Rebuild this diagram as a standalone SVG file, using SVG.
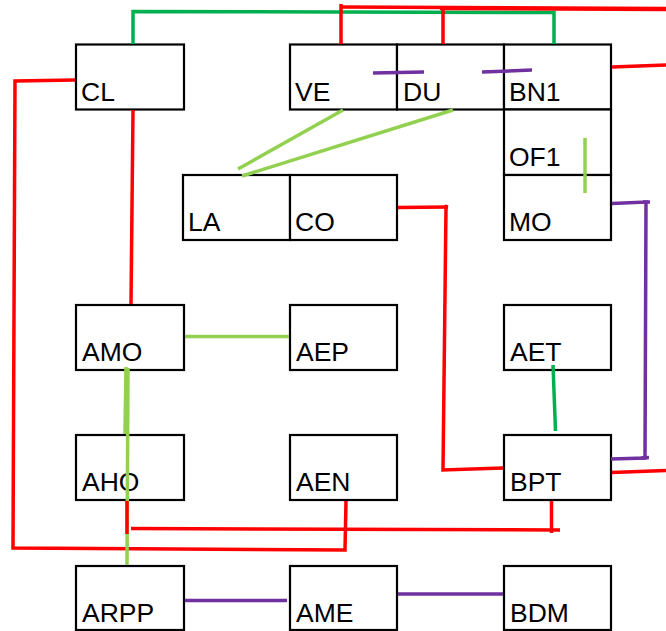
<svg xmlns="http://www.w3.org/2000/svg" width="666" height="631" viewBox="0 0 666 631">
<style>
.box rect{fill:#fff;stroke:#000;stroke-width:2.2}
.box text{font-family:"Liberation Sans",Arial,sans-serif;font-size:26.5px;fill:#000}
.c{fill:none;stroke-width:3.5;stroke-linecap:butt;stroke-linejoin:miter}
.r{stroke:#FF0000}.g{stroke:#00B050}.lg{stroke:#92D050}.p{stroke:#7030A0}
</style>
<rect width="666" height="631" fill="#fff"/>
<g id="CL" class="box"><rect x="76" y="44.5" width="108" height="65"/><text x="81" y="100.5">CL</text></g>
<g id="VE" class="box"><rect x="290" y="44.5" width="107" height="65"/><text x="295" y="100.5">VE</text></g>
<g id="DU" class="box"><rect x="397" y="44.5" width="107" height="65"/><text x="403" y="100.5">DU</text></g>
<g id="BN1" class="box"><rect x="504" y="44.5" width="107" height="65"/><text x="509" y="100.5">BN1</text></g>
<g id="OF1" class="box"><rect x="504" y="109.5" width="107" height="65.5"/><text x="509" y="165.5">OF1</text></g>
<g id="MO" class="box"><rect x="504" y="175" width="107" height="65"/><text x="509" y="231">MO</text></g>
<g id="LA" class="box"><rect x="183" y="175" width="107" height="65"/><text x="188" y="231">LA</text></g>
<g id="CO" class="box"><rect x="290" y="175" width="107" height="65"/><text x="295" y="231">CO</text></g>
<g id="AMO" class="box"><rect x="76" y="305" width="108" height="65"/><text x="82" y="361">AMO</text></g>
<g id="AEP" class="box"><rect x="290" y="305" width="107" height="65"/><text x="296" y="361">AEP</text></g>
<g id="AET" class="box"><rect x="504" y="305" width="107" height="65"/><text x="510" y="361">AET</text></g>
<g id="AHO" class="box"><rect x="76" y="435" width="108" height="65"/><text x="82" y="491">AHO</text></g>
<g id="AEN" class="box"><rect x="290" y="435" width="107" height="65"/><text x="296" y="491">AEN</text></g>
<g id="BPT" class="box"><rect x="504" y="435" width="107" height="65"/><text x="510" y="491">BPT</text></g>
<g id="ARPP" class="box"><rect x="76" y="566" width="108" height="64"/><text x="82" y="622">ARPP</text></g>
<g id="AME" class="box"><rect x="290" y="566" width="107" height="64"/><text x="296" y="622">AME</text></g>
<g id="BDM" class="box"><rect x="504" y="566" width="107" height="64"/><text x="510" y="622">BDM</text></g>
<g id="connectors">
<polyline class="c g" points="133,44 133,11.5 554,12.5 554,44"/>
<polyline class="c r" points="341,44 341,4"/>
<line class="c r" x1="341" y1="7" x2="666" y2="8.5"/>
<polyline class="c r" points="443,44 443,8"/>
<line class="c r" x1="440" y1="8.5" x2="666" y2="9.5"/>
<line class="c r" x1="612" y1="67" x2="666" y2="65"/>
<polyline class="c r" points="75,80 15,81 13,548 345,550 346,501"/>
<line class="c r" x1="133" y1="110" x2="131" y2="304"/>
<line class="c p" x1="373" y1="73" x2="424" y2="72"/>
<line class="c p" x1="482" y1="72" x2="532" y2="70"/>
<line class="c lg" x1="343" y1="110" x2="238" y2="169"/>
<line class="c lg" x1="453" y1="110" x2="242" y2="176"/>
<polyline class="c r" points="398,207.5 448,207"/>
<polyline class="c r" points="447,205 446,207 443,470 503,468"/>
<line class="c g" x1="553" y1="365" x2="555.5" y2="431"/>
<line class="c lg" x1="585" y1="138" x2="585" y2="193"/>
<polyline class="c p" points="612,203.5 646,202 645,458 611,459"/>
<line class="c p" x1="643" y1="202" x2="650" y2="202"/>
<line class="c p" x1="641" y1="458" x2="649" y2="457.5"/>
<line class="c r" x1="612" y1="472.5" x2="666" y2="470.5"/>
<line class="c lg" x1="185" y1="336.5" x2="289" y2="336.5"/>
<line class="c lg" x1="126" y1="367" x2="125" y2="434"/>
<line class="c lg" x1="128" y1="368" x2="127" y2="565"/>
<polyline class="c r" points="127,501 127,534"/>
<line class="c r" x1="131" y1="528.5" x2="560" y2="530"/>
<line class="c r" x1="551.5" y1="501" x2="551.5" y2="533"/>
<line class="c p" x1="185" y1="600.5" x2="287" y2="600.5"/>
<line class="c p" x1="398" y1="594" x2="503" y2="594"/>
</g>
</svg>
